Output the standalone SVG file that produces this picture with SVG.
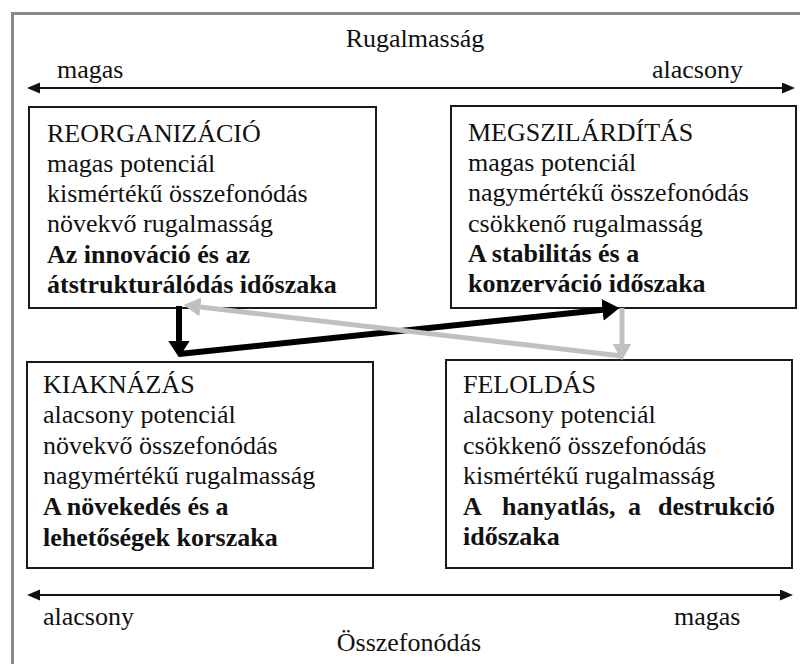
<svg xmlns="http://www.w3.org/2000/svg" width="800" height="664" viewBox="0 0 800 664">
<style>
text{font-family:"Liberation Serif","Times New Roman",serif;font-size:26px;fill:#111}
.b{font-weight:bold}
.box{fill:#fff;stroke:#1a1a1a;stroke-width:2}
.axis{stroke:#111;stroke-width:2;fill:none}
.blk{stroke:#000;stroke-width:6;fill:none}
.gry{stroke:#c0c0c0;stroke-width:5;fill:none}
</style>
<defs>
<marker id="ax" markerUnits="userSpaceOnUse" markerWidth="14" markerHeight="12" refX="3" refY="5.5" orient="auto-start-reverse">
<path d="M0,0 L13,5.5 L0,11 z" fill="#111"/>
</marker>
<marker id="bk" markerUnits="userSpaceOnUse" markerWidth="18" markerHeight="23" refX="0.5" refY="11" orient="auto">
<path d="M0,0 L17,11 L0,22 z" fill="#000"/>
</marker>
<marker id="gr" markerUnits="userSpaceOnUse" markerWidth="18" markerHeight="20" refX="0.5" refY="9.5" orient="auto">
<path d="M0,0 L17,9.5 L0,19 z" fill="#c0c0c0"/>
</marker>
</defs>
<rect x="0" y="0" width="800" height="664" fill="#fff"/>
<rect x="12.5" y="13.5" width="800" height="700" fill="none" stroke="#888" stroke-width="3"/>

<g id="axes">
<text x="415" y="47" text-anchor="middle">Rugalmasság</text>
<text x="57" y="78">magas</text>
<text x="652" y="78">alacsony</text>
<line class="axis" x1="37" y1="88" x2="785" y2="88" marker-start="url(#ax)" marker-end="url(#ax)"/>
<line class="axis" x1="37" y1="595" x2="783" y2="595" marker-start="url(#ax)" marker-end="url(#ax)"/>
<text x="43" y="625">alacsony</text>
<text x="674" y="625">magas</text>
<text x="409" y="651" text-anchor="middle">Összefonódás</text>
</g>

<g id="reorganizacio">
<rect class="box" x="29" y="107" width="347" height="201"/>
<text x="47" y="142">REORGANIZÁCIÓ</text>
<text x="47" y="172">magas potenciál</text>
<text x="47" y="202">kismértékű összefonódás</text>
<text x="47" y="232">növekvő rugalmasság</text>
<text class="b" x="47" y="263">Az innováció és az</text>
<text class="b" x="47" y="293">átstrukturálódás időszaka</text>
</g>

<g id="megszilarditas">
<rect class="box" x="451" y="106" width="345" height="202"/>
<text x="468" y="141">MEGSZILÁRDÍTÁS</text>
<text x="468" y="171">magas potenciál</text>
<text x="468" y="201">nagymértékű összefonódás</text>
<text x="468" y="232">csökkenő rugalmasság</text>
<text class="b" x="468" y="262">A stabilitás és a</text>
<text class="b" x="468" y="292">konzerváció időszaka</text>
</g>

<g id="kiaknazas">
<rect class="box" x="27" y="362" width="346" height="206"/>
<text x="43" y="393">KIAKNÁZÁS</text>
<text x="43" y="423">alacsony potenciál</text>
<text x="43" y="454">növekvő összefonódás</text>
<text x="43" y="484">nagymértékű rugalmasság</text>
<text class="b" x="43" y="515">A növekedés és a</text>
<text class="b" x="43" y="546">lehetőségek korszaka</text>
</g>

<g id="feloldas">
<rect class="box" x="446" y="360" width="346" height="208"/>
<text x="463" y="393">FELOLDÁS</text>
<text x="463" y="423">alacsony potenciál</text>
<text x="463" y="454">csökkenő összefonódás</text>
<text x="463" y="484">kismértékű rugalmasság</text>
<text class="b" y="515"><tspan x="463">A</tspan> <tspan x="502">hanyatlás,</tspan> <tspan x="628">a</tspan> <tspan x="658">destrukció</tspan></text>
<text class="b" x="463" y="545">időszaka</text>
</g>

<g id="connectors">
<path class="blk" d="M179,306 L179,341" marker-end="url(#bk)"/>
<path class="blk" d="M179,354 L603,309.8" marker-end="url(#bk)"/>
<path class="gry" d="M622,308 L622,344" marker-end="url(#gr)"/>
<path class="gry" d="M622,356 L200,306.9" marker-end="url(#gr)"/>
</g>
</svg>
